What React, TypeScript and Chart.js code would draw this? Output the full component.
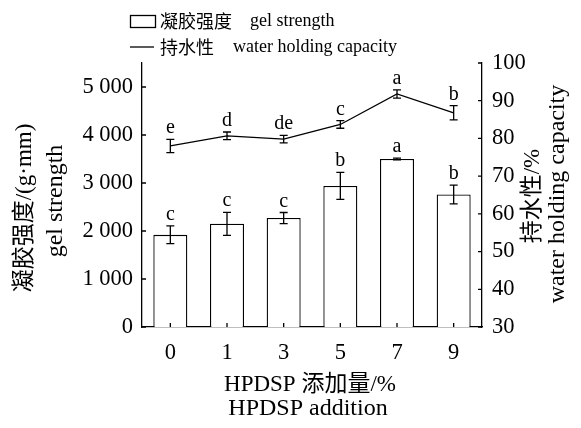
import React, { useEffect, useRef } from "react";
import { Chart, registerables } from "chart.js";
Chart.register(...registerables);

const categories = ["0", "1", "3", "5", "7", "9"];
const gelStrength = [1920, 2150, 2270, 2940, 3500, 2760];
const gelStrengthErr = [185, 240, 115, 280, 20, 195];
const gelLetters = ["c", "c", "c", "b", "a", "b"];
const waterHolding = [78.0, 80.7, 79.8, 83.7, 91.8, 86.8];
const waterHoldingErr = [1.75, 1.0, 1.0, 1.0, 1.1, 1.9];
const waterLetters = ["e", "d", "de", "c", "a", "b"];
const leftTicks = [0, 1000, 2000, 3000, 4000, 5000];
const rightTicks = [30, 40, 50, 60, 70, 80, 90, 100];

const SERIF = "'Liberation Serif', 'Noto Sans CJK SC', serif";
const CJK = "'Noto Sans CJK SC', 'Liberation Serif', sans-serif";

function fmt(v: number) {
  const s = String(v);
  if (s.length > 3) return s.slice(0, s.length - 3) + " " + s.slice(s.length - 3);
  return s;
}

const decorPlugin = {
  id: "decor",
  afterDatasetsDraw(chart: any) {
    const ctx = chart.ctx;
    const yL = chart.scales.yL;
    const yR = chart.scales.yR;
    const x = chart.scales.x;
    const area = chart.chartArea;
    ctx.save();
    ctx.strokeStyle = "#000";
    ctx.fillStyle = "#000";
    ctx.lineWidth = 1.3;
    const drawErr = (meta: any, vals: number[], errs: number[], letters: string[], scale: any) => {
      meta.data.forEach((el: any, i: number) => {
        const px = el.x;
        const top = scale.getPixelForValue(vals[i] + errs[i]);
        const bot = scale.getPixelForValue(vals[i] - errs[i]);
        ctx.beginPath();
        ctx.moveTo(px, top);
        ctx.lineTo(px, bot);
        ctx.moveTo(px - 4, top);
        ctx.lineTo(px + 4, top);
        ctx.moveTo(px - 4, bot);
        ctx.lineTo(px + 4, bot);
        ctx.stroke();
        ctx.font = `20px ${SERIF}`;
        ctx.textAlign = "center";
        ctx.textBaseline = "alphabetic";
        ctx.fillText(letters[i], px, top - 6);
      });
    };
    drawErr(chart.getDatasetMeta(0), gelStrength, gelStrengthErr, gelLetters, yL);
    drawErr(chart.getDatasetMeta(1), waterHolding, waterHoldingErr, waterLetters, yR);
    ctx.beginPath();
    leftTicks.forEach((v) => {
      const py = yL.getPixelForValue(v);
      ctx.moveTo(area.left, py);
      ctx.lineTo(area.left + 4, py);
    });
    rightTicks.forEach((v) => {
      const py = yR.getPixelForValue(v);
      ctx.moveTo(area.right, py);
      ctx.lineTo(area.right - 4, py);
    });
    categories.forEach((_, i) => {
      const px = x.getPixelForValue(i);
      ctx.moveTo(px, area.bottom);
      ctx.lineTo(px, area.bottom - 4);
    });
    ctx.stroke();
    ctx.restore();
  },
  afterDraw(chart: any) {
    const ctx = chart.ctx;
    ctx.save();
    ctx.fillStyle = "#000";
    ctx.strokeStyle = "#000";
    ctx.lineWidth = 1.3;
    ctx.strokeRect(122.5, 7.5, 25, 12);
    ctx.beginPath();
    ctx.moveTo(122, 39);
    ctx.lineTo(146, 39);
    ctx.stroke();
    ctx.textAlign = "left";
    ctx.textBaseline = "middle";
    ctx.font = `18px ${CJK}`;
    ctx.fillText("凝胶强度", 152, 13);
    ctx.fillText("持水性", 152, 39);
    ctx.font = `18px ${SERIF}`;
    ctx.fillText("gel strength", 242, 13);
    ctx.fillText("water holding capacity", 225, 39);

    ctx.textAlign = "center";
    ctx.font = `23px ${SERIF}`;
    ctx.fillText("HPDSP 添加量/%", 302, 377);
    ctx.font = `24px ${SERIF}`;
    ctx.fillText("HPDSP addition", 300, 401);

    const rot = (text: string, cx: number, cy: number, font: string) => {
      ctx.save();
      ctx.translate(cx, cy);
      ctx.rotate(-Math.PI / 2);
      ctx.font = font;
      ctx.textAlign = "center";
      ctx.textBaseline = "middle";
      ctx.fillText(text, 0, 0);
      ctx.restore();
    };
    rot("凝胶强度/(g·mm)", 17, 200, `23px ${SERIF}`);
    rot("gel strength", 48, 193, `24px ${SERIF}`);
    rot("持水性/%", 525, 188, `23px ${SERIF}`);
    rot("water holding capacity", 550, 186, `24px ${SERIF}`);
    ctx.restore();
  },
};

export default function App() {
  const ref = useRef<HTMLCanvasElement | null>(null);
  useEffect(() => {
    if (!ref.current) return;
    const chart = new Chart(ref.current, {
      type: "bar",
      data: {
        labels: categories,
        datasets: [
          {
            type: "bar",
            label: "凝胶强度 gel strength",
            data: gelStrength,
            yAxisID: "yL",
            backgroundColor: "#fff",
            borderColor: "#000",
            borderWidth: 1.3,
            barPercentage: 0.6,
            categoryPercentage: 1,
            order: 1,
          },
          {
            type: "line",
            label: "持水性 water holding capacity",
            data: waterHolding,
            yAxisID: "yR",
            borderColor: "#000",
            borderWidth: 1.3,
            pointRadius: 0,
            fill: false,
            tension: 0,
            order: 0,
          } as any,
        ],
      },
      options: {
        animation: false,
        responsive: true,
        maintainAspectRatio: false,
        layout: { padding: { top: 55, left: 0, right: 0, bottom: 0 } },
        plugins: { legend: { display: false }, tooltip: { enabled: false } },
        scales: {
          x: {
            type: "category",
            offset: true,
            grid: { display: false, drawTicks: false },
            border: { display: true, color: "#000", width: 1.3 },
            ticks: { color: "#000", font: { family: SERIF, size: 22.5 }, padding: 13 },
            afterFit: (s: any) => {
              s.height = 93;
            },
          },
          yL: {
            type: "linear",
            position: "left",
            min: 0,
            max: 5500,
            grid: { display: false, drawTicks: false },
            border: { display: true, color: "#000", width: 1.3 },
            ticks: {
              color: "#000",
              font: { family: SERIF, size: 22.5 },
              padding: 9,
              callback: (v: any) => fmt(Number(v)),
            },
            afterBuildTicks: (s: any) => {
              s.ticks = leftTicks.map((v) => ({ value: v }));
            },
            afterFit: (s: any) => {
              s.width = 134;
            },
          },
          yR: {
            type: "linear",
            position: "right",
            min: 30,
            max: 100,
            grid: { display: false, drawTicks: false },
            border: { display: true, color: "#000", width: 1.3 },
            ticks: { color: "#000", font: { family: SERIF, size: 22.5 }, padding: 10 },
            afterBuildTicks: (s: any) => {
              s.ticks = rightTicks.map((v) => ({ value: v }));
            },
            afterFit: (s: any) => {
              s.width = 91;
            },
          },
        },
      },
      plugins: [decorPlugin],
    });
    return () => chart.destroy();
  }, []);
  return (
    <div style={{ width: 565, height: 412, position: "relative" }}>
      <canvas ref={ref} />
    </div>
  );
}
